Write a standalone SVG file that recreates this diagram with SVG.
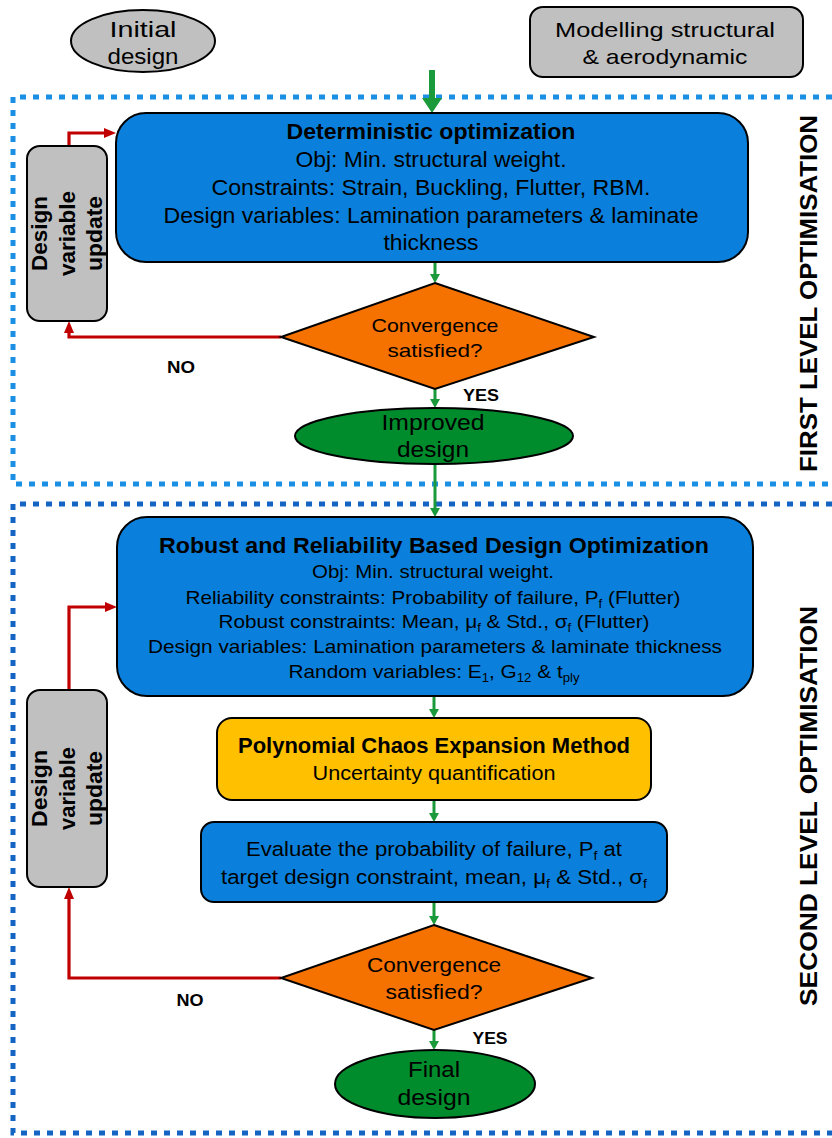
<svg xmlns="http://www.w3.org/2000/svg" width="832" height="1138" viewBox="0 0 832 1138">
  <style>
    text{font-family:"Liberation Sans",Arial,Helvetica,sans-serif;fill:#000;text-anchor:middle}
    .b{font-weight:bold}
    .ln{stroke:#000;stroke-width:2}
    .gray{fill:#c0c0c0}
    .blue{fill:#0a80dc}
    .orange{fill:#f57200}
    .yellow{fill:#ffc000}
    .green{fill:#008c2c}
    .ga{fill:none;stroke:#1a9a3a;stroke-width:3;marker-end:url(#hg)}
    .ra{fill:none;stroke:#c00000;stroke-width:3.2;marker-end:url(#hr)}
    .f1{fill:none;stroke:#1a8fe3;stroke-width:5;stroke-dasharray:6 7}
    .f2{fill:none;stroke:#1464c4;stroke-width:5;stroke-dasharray:6 7}
  </style>
  <defs>
    <marker id="hg" viewBox="0 0 9 10" refX="0" refY="5" markerWidth="9" markerHeight="10" markerUnits="userSpaceOnUse" orient="auto">
      <path d="M0,0 L9,5 L0,10 z" fill="#1a9a3a"/>
    </marker>
    <marker id="hr" viewBox="0 0 12 10" refX="0" refY="5" markerWidth="12" markerHeight="10" markerUnits="userSpaceOnUse" orient="auto">
      <path d="M0,0 L12,5 L0,10 z" fill="#c00000"/>
    </marker>
  </defs>

  <!-- level frames -->
  <g id="frames">
    <path class="f1" d="M832,97 H13 V484 H832"/>
    <path class="f2" d="M832,504 H13 V1133 H832"/>
  </g>

  <!-- level captions -->
  <g id="captions">
    <text class="b" font-size="24" textLength="357" lengthAdjust="spacingAndGlyphs" transform="translate(817,293.5) rotate(-90)">FIRST LEVEL OPTIMISATION</text>
    <text class="b" font-size="24" textLength="400" lengthAdjust="spacingAndGlyphs" transform="translate(817,806) rotate(-90)">SECOND LEVEL OPTIMISATION</text>
  </g>

  <!-- connectors -->
  <g id="connectors">
    <path d="M429,70 H435 V98 H442 L432,113 L422,98 H429 Z" fill="#1a9a3a"/>
    <path class="ga" d="M435,262 V274"/>
    <path class="ga" d="M435,389 V399"/>
    <path class="ga" d="M435,464 V508"/>
    <path class="ga" d="M434,696 V709"/>
    <path class="ga" d="M434,800 V813"/>
    <path class="ga" d="M434,902 V916"/>
    <path class="ga" d="M434,1030 V1041"/>
    <path class="ra" d="M69,146 V133 H104"/>
    <path class="ra" d="M281,337 H69 V333"/>
    <path class="ra" d="M69,690 V607 H105"/>
    <path class="ra" d="M281,978 H69 V899"/>
    <text class="b" font-size="16" textLength="28" lengthAdjust="spacingAndGlyphs" x="181" y="373">NO</text>
    <text class="b" font-size="16" textLength="36" lengthAdjust="spacingAndGlyphs" x="481" y="401">YES</text>
    <text class="b" font-size="16" textLength="27" lengthAdjust="spacingAndGlyphs" x="190" y="1006">NO</text>
    <text class="b" font-size="16" textLength="35" lengthAdjust="spacingAndGlyphs" x="490" y="1044">YES</text>
  </g>

  <g id="initial-design">
    <ellipse class="gray ln" cx="143" cy="41" rx="72" ry="31"/>
    <text font-size="22" textLength="67" lengthAdjust="spacingAndGlyphs" x="143" y="37">Initial</text>
    <text font-size="22" textLength="71" lengthAdjust="spacingAndGlyphs" x="143" y="64">design</text>
  </g>

  <g id="modelling">
    <rect class="gray ln" x="530" y="7" width="273" height="70" rx="13"/>
    <text font-size="21" textLength="220" lengthAdjust="spacingAndGlyphs" x="665" y="37">Modelling structural</text>
    <text font-size="21" textLength="165" lengthAdjust="spacingAndGlyphs" x="665" y="64">&amp; aerodynamic</text>
  </g>

  <g id="deterministic-optimization">
    <rect class="blue ln" x="116" y="113" width="632" height="149" rx="30"/>
    <text class="b" font-size="21.5" textLength="289" lengthAdjust="spacingAndGlyphs" x="431" y="139">Deterministic optimization</text>
    <text font-size="21.5" textLength="271" lengthAdjust="spacingAndGlyphs" x="431" y="167">Obj: Min. structural weight.</text>
    <text font-size="21.5" textLength="439" lengthAdjust="spacingAndGlyphs" x="431" y="195">Constraints: Strain, Buckling, Flutter, RBM.</text>
    <text font-size="21.5" textLength="535" lengthAdjust="spacingAndGlyphs" x="431" y="223">Design variables: Lamination parameters &amp; laminate</text>
    <text font-size="21.5" textLength="95" lengthAdjust="spacingAndGlyphs" x="431" y="250">thickness</text>
  </g>

  <g id="design-update-1">
    <rect class="gray ln" x="27" y="146" width="80" height="175" rx="13"/>
    <g transform="translate(67,233.5) rotate(-90)">
      <text class="b" font-size="22" textLength="75" lengthAdjust="spacingAndGlyphs" x="0" y="-20">Design</text>
      <text class="b" font-size="22" textLength="85" lengthAdjust="spacingAndGlyphs" x="0" y="8">variable</text>
      <text class="b" font-size="22" textLength="75" lengthAdjust="spacingAndGlyphs" x="0" y="35">update</text>
    </g>
  </g>

  <g id="convergence-1">
    <polygon class="orange ln" points="435,283 594,337 435,389 281,337"/>
    <text font-size="19" textLength="127" lengthAdjust="spacingAndGlyphs" x="435" y="332">Convergence</text>
    <text font-size="19" textLength="95" lengthAdjust="spacingAndGlyphs" x="435" y="357">satisfied?</text>
  </g>

  <g id="improved-design">
    <ellipse class="green ln" cx="434" cy="436" rx="139" ry="28"/>
    <text font-size="22" textLength="103" lengthAdjust="spacingAndGlyphs" x="433" y="430">Improved</text>
    <text font-size="22" textLength="72" lengthAdjust="spacingAndGlyphs" x="433" y="457">design</text>
  </g>

  <g id="rbdo">
    <rect class="blue ln" x="117" y="517" width="636" height="179" rx="30"/>
    <text class="b" font-size="22" textLength="550" lengthAdjust="spacingAndGlyphs" x="434" y="553">Robust and Reliability Based Design Optimization</text>
    <text font-size="19" textLength="242" lengthAdjust="spacingAndGlyphs" x="433" y="578">Obj: Min. structural weight.</text>
    <text font-size="19" textLength="495" lengthAdjust="spacingAndGlyphs" x="433" y="604">Reliability constraints: Probability of failure, P<tspan font-size="12" dy="4">f</tspan><tspan dy="-4"> (Flutter)</tspan></text>
    <text font-size="19" textLength="431" lengthAdjust="spacingAndGlyphs" x="434" y="628">Robust constraints: Mean, μ<tspan font-size="12" dy="4">f</tspan><tspan dy="-4"> &amp; Std., σ</tspan><tspan font-size="12" dy="4">f</tspan><tspan dy="-4"> (Flutter)</tspan></text>
    <text font-size="19" textLength="574" lengthAdjust="spacingAndGlyphs" x="435" y="653">Design variables: Lamination parameters &amp; laminate thickness</text>
    <text font-size="19" textLength="291" lengthAdjust="spacingAndGlyphs" x="434" y="678">Random variables: E<tspan font-size="12" dy="4">1</tspan><tspan dy="-4">, G</tspan><tspan font-size="12" dy="4">12</tspan><tspan dy="-4"> &amp; t</tspan><tspan font-size="12" dy="4">ply</tspan></text>
  </g>

  <g id="pce">
    <rect class="yellow ln" x="217" y="718" width="434" height="82" rx="15"/>
    <text class="b" font-size="21.5" textLength="392" lengthAdjust="spacingAndGlyphs" x="434" y="753">Polynomial Chaos Expansion Method</text>
    <text font-size="20.5" textLength="243" lengthAdjust="spacingAndGlyphs" x="434" y="780">Uncertainty quantification</text>
  </g>

  <g id="evaluate">
    <rect class="blue ln" x="201" y="822" width="466" height="80" rx="13"/>
    <text font-size="20.5" textLength="376" lengthAdjust="spacingAndGlyphs" x="434" y="856">Evaluate the probability of failure, P<tspan font-size="13" dy="4">f</tspan><tspan dy="-4"> at</tspan></text>
    <text font-size="20.5" textLength="426" lengthAdjust="spacingAndGlyphs" x="434" y="884">target design constraint, mean, μ<tspan font-size="13" dy="4">f</tspan><tspan dy="-4"> &amp; Std., σ</tspan><tspan font-size="13" dy="4">f</tspan></text>
  </g>

  <g id="design-update-2">
    <rect class="gray ln" x="27" y="690" width="80" height="197" rx="13"/>
    <g transform="translate(67,788.5) rotate(-90)">
      <text class="b" font-size="22" textLength="77" lengthAdjust="spacingAndGlyphs" x="0" y="-20">Design</text>
      <text class="b" font-size="22" textLength="83" lengthAdjust="spacingAndGlyphs" x="0" y="8">variable</text>
      <text class="b" font-size="22" textLength="75" lengthAdjust="spacingAndGlyphs" x="0" y="35">update</text>
    </g>
  </g>

  <g id="convergence-2">
    <polygon class="orange ln" points="434,925 592,978 434,1030 281,978"/>
    <text font-size="19.5" textLength="134" lengthAdjust="spacingAndGlyphs" x="434" y="972">Convergence</text>
    <text font-size="19.5" textLength="97" lengthAdjust="spacingAndGlyphs" x="434" y="999">satisfied?</text>
  </g>

  <g id="final-design">
    <ellipse class="green ln" cx="435" cy="1084" rx="100" ry="34"/>
    <text font-size="22" textLength="52" lengthAdjust="spacingAndGlyphs" x="434" y="1077">Final</text>
    <text font-size="22" textLength="73" lengthAdjust="spacingAndGlyphs" x="434" y="1105">design</text>
  </g>
</svg>
